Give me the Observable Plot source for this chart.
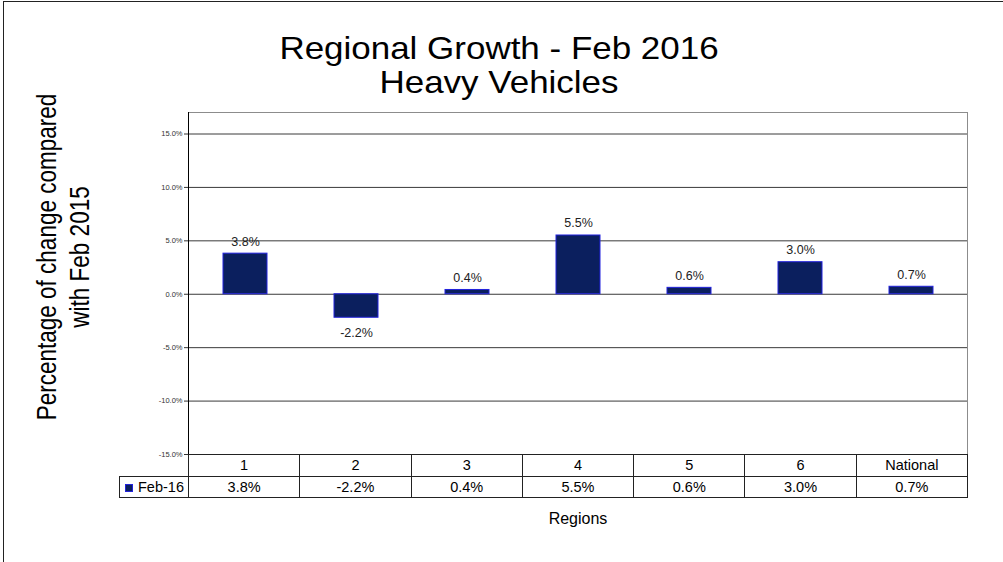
<!DOCTYPE html>
<html><head><meta charset="utf-8">
<script src="https://cdn.jsdelivr.net/npm/d3@7"></script>
<script src="https://cdn.jsdelivr.net/npm/@observablehq/plot@0.6"></script>
<style>
body{margin:0;background:#fff;}
#wrap{position:relative;width:1003px;height:562px;overflow:hidden;font-family:"Liberation Sans",Arial,sans-serif;color:#000;}
#border{position:absolute;left:3px;top:1px;width:1100px;height:700px;border-left:1px solid #222;border-top:1px solid #222;}
#chart{position:absolute;left:0;top:0;}
#title{position:absolute;left:0;top:31px;width:998px;text-align:center;font-size:31.5px;line-height:34px;transform:scaleX(1.11);transform-origin:499px 0;white-space:nowrap;}
#ylabel{position:absolute;left:-107px;top:230px;width:340px;height:54px;text-align:center;font-size:22.5px;line-height:27px;transform:scaleX(1.22) rotate(-90deg);transform-origin:center;white-space:nowrap;}
#xlabel{position:absolute;left:478px;width:200px;top:510px;text-align:center;font-size:16px;line-height:18px;}
#tbl{position:absolute;left:119px;top:454px;border-collapse:collapse;table-layout:fixed;font-size:14.5px;}
#tbl td{border:1px solid #222;text-align:center;padding:0;height:20.5px;line-height:20px;overflow:hidden;white-space:nowrap;}
#tbl td.blank{border-left:none;border-top:none;}
#tbl td.leg{text-align:left;padding-left:5px;}
.sw{display:inline-block;width:6px;height:6px;background:#0b1f5e;border:1px solid #2222dd;margin-right:5px;vertical-align:0px;}
</style></head><body><div id="wrap"></div><script>
const regions = ["1","2","3","4","5","6","National"];
const growth = [3.8,-2.2,0.4,5.5,0.6,3.0,0.7];
const yTicks = [-15,-10,-5,0,5,10,15];
const seriesName = "Feb-16";
const titleLines = ["Regional Growth - Feb 2016","Heavy Vehicles"];
const yLabelLines = ["Percentage of change compared","with Feb 2015"];
const xLabel = "Regions";

const data = regions.map((r,i)=>({region:r, value:growth[i]}));
const fmt = v => v.toFixed(1) + "%";
const barFill = "#0b1f5e", barStroke = "#2222dd";

const wrap = document.getElementById("wrap");
const border = document.createElement("div"); border.id = "border"; wrap.appendChild(border);

const plot = Plot.plot({
  width:1003, height:562,
  marginLeft:188, marginRight:36, marginTop:112, marginBottom:108,
  style:{background:"transparent", fontFamily:"'Liberation Sans', Arial, sans-serif", overflow:"visible"},
  x:{domain:regions, paddingInner:0.605, paddingOuter:0.3025, axis:null},
  y:{domain:[-15,15], range:[454,133.5]},
  marks:[
    Plot.frame({stroke:"#8c8c8c"}),
    Plot.ruleY(yTicks,{stroke:"#3a3a3a", strokeWidth:1}),
    Plot.axisY(yTicks,{tickFormat:d=>d.toFixed(1)+"%", tickSize:4, tickPadding:2, fontSize:7.5, fill:"#333", stroke:"#333", label:null}),
    Plot.frame({anchor:"left", stroke:"#000"}),
    Plot.barY(data,{x:"region", y:"value", fill:barFill, stroke:barStroke, strokeWidth:1}),
    Plot.text(data.filter(d=>d.value>=0),{x:"region", y:"value", text:d=>fmt(d.value), dy:-12, fontSize:12.5, fill:"#222"}),
    Plot.text(data.filter(d=>d.value<0),{x:"region", y:"value", text:d=>fmt(d.value), dy:15, fontSize:12.5, fill:"#222"})
  ]
});
plot.id = "chart";
wrap.appendChild(plot);

const t = document.createElement("div"); t.id = "title";
t.innerHTML = titleLines.join("<br>"); wrap.appendChild(t);
const yl = document.createElement("div"); yl.id = "ylabel";
yl.innerHTML = yLabelLines.join("<br>"); wrap.appendChild(yl);
const xl = document.createElement("div"); xl.id = "xlabel";
xl.textContent = xLabel; wrap.appendChild(xl);

const colW = (967-188)/regions.length;
const tbl = document.createElement("table"); tbl.id = "tbl";
const cg = document.createElement("colgroup");
[69, ...regions.map(()=>colW)].forEach(w=>{const c=document.createElement("col"); c.style.width=w+"px"; cg.appendChild(c);});
tbl.appendChild(cg);
const r1 = tbl.insertRow();
const b = r1.insertCell(); b.className = "blank";
regions.forEach(r=>{ r1.insertCell().textContent = r; });
const r2 = tbl.insertRow();
const lc = r2.insertCell(); lc.className = "leg";
lc.innerHTML = '<span class="sw"></span>' + seriesName;
growth.forEach(v=>{ r2.insertCell().textContent = fmt(v); });
tbl.style.width = (967-119) + "px";
wrap.appendChild(tbl);
</script></body></html>
